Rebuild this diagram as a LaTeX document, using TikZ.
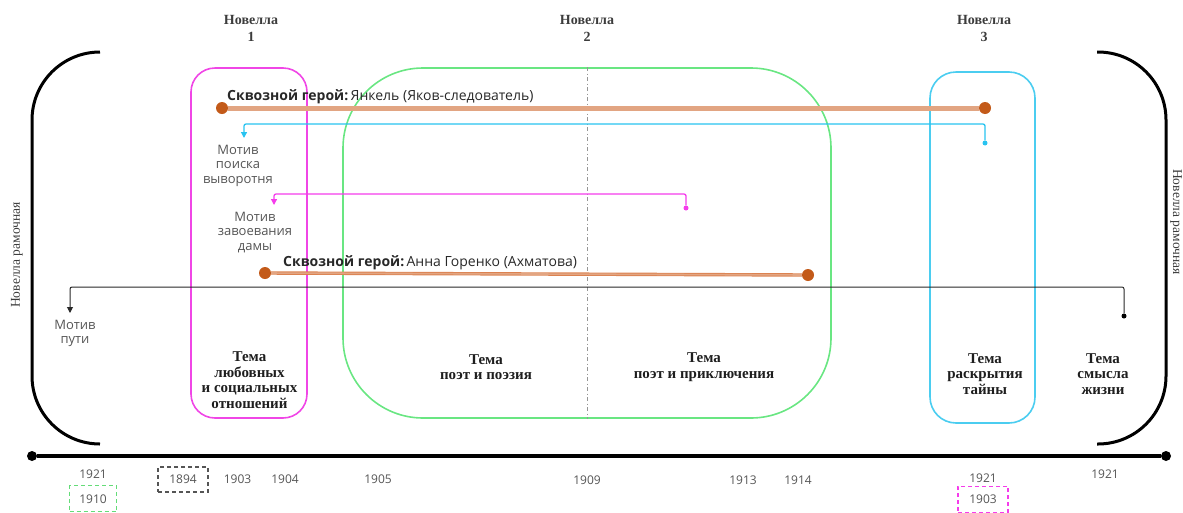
\documentclass[tikz,border=0pt]{standalone}
\usepackage{fontspec}
\setmainfont{Liberation Serif}
\setsansfont{Open Sans}
\usepackage{xcolor}
\definecolor{HeadGray}{RGB}{60,60,60}
\definecolor{ThemeBlack}{RGB}{30,30,30}
\definecolor{TextGray}{RGB}{85,85,85}
\definecolor{TextDark}{RGB}{40,40,40}
\definecolor{BoxPink}{RGB}{240,70,230}
\definecolor{BoxGreen}{RGB}{105,230,130}
\definecolor{BoxCyan}{RGB}{75,205,240}
\definecolor{MotifCyan}{RGB}{40,195,240}
\definecolor{MotifPink}{RGB}{245,60,235}
\definecolor{HeroDark}{RGB}{195,90,25}
\definecolor{HeroLight}{RGB}{226,165,130}
\definecolor{HeroMid}{RGB}{220,130,80}
\definecolor{DashGray}{RGB}{150,150,150}
\definecolor{YearGreen}{RGB}{100,220,120}
\usepackage{tikz}
\usetikzlibrary{arrows.meta, positioning, calc}
\tikzset{
  % Novella headings and frame labels
  novhead/.style={font=\fontsize{14}{17}\selectfont\bfseries, text=HeadGray,
    align=center, inner sep=0pt},
  framelabel/.style={font=\fontsize{13.5}{16}\selectfont, text=HeadGray, inner sep=0pt},
  % Frame brackets
  bracket/.style={line width=3pt, rounded corners=68pt},
  % Novella boxes
  novbox/.style={rectangle, line width=1.6pt, rounded corners=24pt, inner sep=0pt},
  novbox pink/.style={novbox, draw=BoxPink, minimum width=116pt, minimum height=350pt},
  novbox green/.style={novbox, draw=BoxGreen, rounded corners=80pt,
    minimum width=488pt, minimum height=350pt},
  novbox cyan/.style={novbox, draw=BoxCyan, rounded corners=26pt,
    minimum width=105pt, minimum height=351pt},
  divider/.style={DashGray, line width=1pt, dash pattern=on 4pt off 2.5pt on 1pt off 2.5pt},
  % Theme text
  theme/.style={font=\fontsize{15}{15.5}\selectfont\bfseries, text=ThemeBlack,
    align=center, inner sep=0pt},
  % Through heroes
  herodot/.style={circle, fill=HeroDark, minimum size=12pt, inner sep=0pt},
  heroline/.style={line width=5pt, draw=HeroLight},
  herodouble/.style={draw=HeroMid, line width=0.9pt, double=HeroLight, double distance=1.6pt},
  herolabel/.style={font=\sffamily\fontsize{14}{16}\selectfont, text=TextDark,
    inner sep=0pt, anchor=base west},
  % Motifs
  motifdot/.style={circle, minimum size=5pt, inner sep=0pt},
  motif/.style={font=\sffamily\fontsize{13}{14.5}\selectfont, text=TextGray,
    align=center, inner xsep=0pt, inner ysep=7pt, anchor=north},
  motifarr/.style={-{Triangle[length=6pt,width=6pt]}, line width=1.3pt, rounded corners=2pt},
  % Timeline
  tldot/.style={circle, fill=black, minimum size=10pt, inner sep=0pt},
  timeline/.style={line width=3.2pt, black},
  year/.style={font=\sffamily\fontsize{12}{13}\selectfont, text=TextGray, inner sep=1pt},
  yearbox/.style={year, draw, dash pattern=on 4pt off 3pt, line width=1.2pt,
    minimum width=50pt, minimum height=25pt},
}

\begin{document}
\begin{tikzpicture}[x=1pt, y=-1pt]
  \useasboundingbox (0,0) rectangle (1183,512);

  %% Headings
  \node[novhead] (nov1) at (251,28) {Новелла\\1};
  \node[novhead] (nov2) at (587,28) {Новелла\\2};
  \node[novhead] (nov3) at (984,28) {Новелла\\3};

  \node[framelabel, rotate=90]  (frameL) at (17,255)   {Новелла рамочная};
  \node[framelabel, rotate=-90] (frameR) at (1176,222) {Новелла рамочная};

  %% Brackets
  \draw[bracket] (100,52) -- (32,52) -- (32,444) -- (100,444);
  \draw[bracket] (1097,52) -- (1166,52) -- (1166,444) -- (1097,444);

  %% Novella boxes
  \node[novbox pink]  (box1) at (249,243)   {};
  \node[novbox green] (box2) at (587,243)   {};
  \node[novbox cyan]  (box3) at (982.5,247.5) {};

  \draw[divider] (box2.north) -- (box2.south);

  %% Themes
  \node[theme] (th1) at (249.5,380) {Тема\\любовных\\и социальных\\отношений};
  \node[theme] (th2) at (486,367)   {Тема\\поэт и поэзия};
  \node[theme] (th3) at (704,367)   {Тема\\поэт и приключения};
  \node[theme] (th4) at (985,374)   {Тема\\раскрытия\\тайны};
  \node[theme] (th5) at (1103,374)  {Тема\\смысла\\жизни};

  %% Motifs
  \node[motif] (mcyan) at (238,138) {Мотив\\поиска\\выворотня};
  \node[motif] (mpink) at (255,205) {Мотив\\завоевания\\дамы};
  \node[motif] (mpath) at (75,313)  {Мотив\\пути};

  \node[motifdot, fill=MotifCyan] (dcyan) at (985,143)  {};
  \node[motifdot, fill=MotifPink] (dpink) at (686,208)  {};
  \node[motifdot, fill=black]     (dpath) at (1124,316) {};

  \coordinate (kcyan) at (244,124);
  \coordinate (kpink) at (274,194);
  \coordinate (kpath) at (70,287);

  \draw[motifarr, MotifCyan] (dcyan) |- (kcyan) -- (kcyan |- mcyan.north);
  \draw[motifarr, MotifPink] (dpink) |- (kpink) -- (kpink |- mpink.north);
  \draw[motifarr, TextDark, line width=1pt] (dpath) |- (kpath) -- (kpath |- mpath.north);

  %% Through heroes
  \node[herodot] (yankelL) at (222,108) {};
  \node[herodot] (yankelR) at (985,108) {};
  \node[herolabel] (yankel) at (227,100)
    {\textbf{Сквозной герой:}\,Янкель (Яков-следователь)};

  \node[herodot] (annaL) at (265,273) {};
  \node[herodot] (annaR) at (808,275) {};
  \node[herolabel] (anna) at (283,266)
    {\textbf{Сквозной герой:}\,Анна Горенко (Ахматова)};

  \draw[heroline]   (yankelL) -- (yankelR);
  \draw[herodouble] (annaL) -- (annaR);

  %% Timeline
  \node[tldot] (tlL) at (32,456)   {};
  \node[tldot] (tlR) at (1166,456) {};
  \draw[timeline] (tlL) -- (tlR);

  \node[year] (y1921a) at (93,474.5) {1921};
  \node[yearbox, draw=YearGreen, minimum width=47pt, minimum height=26pt,
        below=5pt of y1921a] (y1910) {1910};
  \node[yearbox, draw=TextGray] (y1894) at (183,479.5) {1894};
  \node[year] (y1903) at (237.5,479.5) {1903};
  \node[year] (y1904) at (285,479.5)   {1904};
  \node[year] (y1905) at (378,479.5)   {1905};
  \node[year] (y1909) at (587,480)     {1909};
  \node[year] (y1913) at (743,480)     {1913};
  \node[year] (y1914) at (798,480)     {1914};
  \node[year] (y1921b) at (983,478.5)  {1921};
  \node[yearbox, draw=MotifPink, minimum height=26pt,
        below=1.5pt of y1921b] (y1903b) {1903};
  \node[year] (y1921c) at (1105,474.5) {1921};

\end{tikzpicture}
\end{document}
